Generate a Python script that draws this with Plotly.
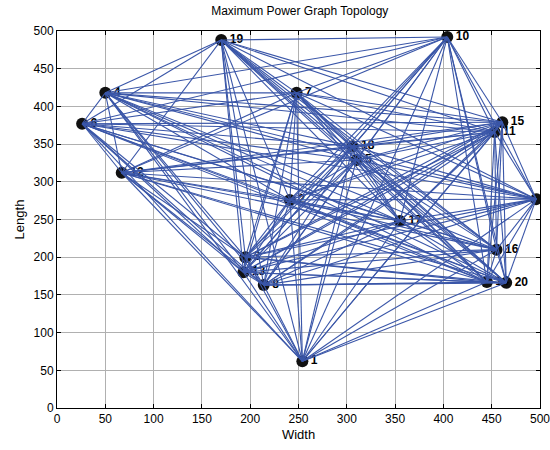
import itertools
import plotly.graph_objects as go

node_ids = ["1", "2", "3", "4", "5", "6", "7", "8", "9", "10",
            "11", "12", "13", "14", "15", "16", "17", "18", "19", "20"]
node_x = [254, 241, 195, 50, 310, 26, 248, 214, 496, 404,
          453, 67, 193, 445, 461, 455, 355, 306, 170, 465]
node_y = [62, 276, 200, 418, 329, 377, 418, 163, 277, 492,
          366, 312, 180, 167, 379, 210, 248, 347, 488, 166]

edge_x, edge_y = [], []
for i, j in itertools.combinations(range(len(node_ids)), 2):
    edge_x += [node_x[i], node_x[j], None]
    edge_y += [node_y[i], node_y[j], None]

fig = go.Figure()
fig.add_trace(go.Scatter(
    x=node_x, y=node_y, mode="markers+text", text=node_ids,
    textposition="middle right",
    textfont=dict(family="Liberation Sans", size=12, color="black", weight="bold"),
    marker=dict(size=12, color="#111111"),
    showlegend=False, hoverinfo="skip"))
fig.add_trace(go.Scatter(
    x=edge_x, y=edge_y, mode="lines",
    line=dict(color="#3a56a8", width=1.1),
    showlegend=False, hoverinfo="skip"))

axis_common = dict(
    range=[0, 500], dtick=50, tick0=0,
    showgrid=True, gridcolor="#b0b0b0", gridwidth=1,
    showline=True, linecolor="black", linewidth=1, mirror="ticks",
    ticks="inside", ticklen=4, tickcolor="black",
    zeroline=False, ticklabeloverflow="allow", automargin=False,
    tickfont=dict(family="Liberation Sans", size=12, color="black"),
)
fig.update_xaxes(**axis_common, title=dict(text="Width", standoff=4,
                 font=dict(family="Liberation Sans", size=13, color="black")))
fig.update_yaxes(**axis_common, title=dict(text="Length", standoff=6,
                 font=dict(family="Liberation Sans", size=13, color="black")))

fig.update_layout(
    width=550, height=450,
    margin=dict(l=57, r=10, t=31, b=42),
    plot_bgcolor="white", paper_bgcolor="white",
    title=dict(text="Maximum Power Graph Topology", x=0.545, xanchor="center",
               y=0.975, yanchor="middle",
               font=dict(family="Liberation Sans", size=12, color="black")),
)
fig.write_html("out.html")
